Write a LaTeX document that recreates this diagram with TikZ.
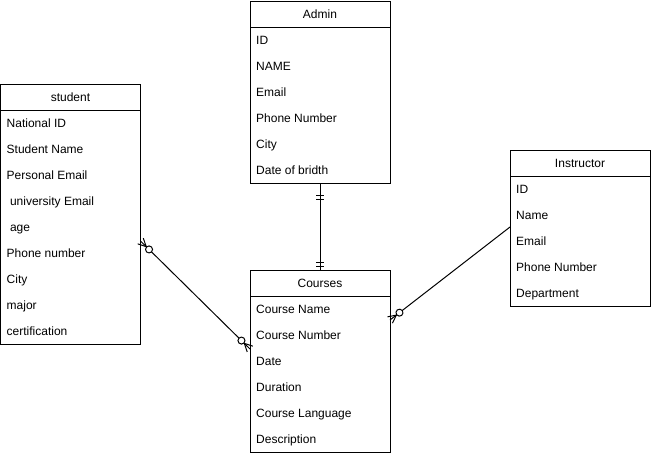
\documentclass[tikz,border=0pt]{standalone}
\usepackage{fontspec}
\setmainfont{Liberation Sans}
\usetikzlibrary{calc,decorations.markings}

\tikzset{
  box/.style={draw=black, line width=1pt, fill=white, minimum width=140pt,
    inner sep=0pt, outer sep=0pt, anchor=north west},
  etitle/.style={anchor=base, inner sep=0pt, font=\fontsize{12}{14}\selectfont},
  field/.style={anchor=base west, inner sep=0pt, font=\fontsize{12}{14}\selectfont},
  rel/.style={draw=black, line width=1pt},
  % zero-or-many (circle + crow's foot) at the start / end of a relation line
  zmstart/.style={postaction={decorate, decoration={markings,
    mark=at position 0 with {
      \draw[line width=1pt] (8pt,0) -- (0,4pt) (8pt,0) -- (0,-4pt);
      \draw[line width=1pt, fill=white] (12pt,0) circle (3.5pt);}}}},
  zmend/.style={postaction={decorate, decoration={markings,
    mark=at position 1 with {
      \draw[line width=1pt] (-8pt,0) -- (0,4pt) (-8pt,0) -- (0,-4pt);
      \draw[line width=1pt, fill=white] (-12pt,0) circle (3.5pt);}}}},
  % mandatory-one (double bar)
  mostart/.style={postaction={decorate, decoration={markings,
    mark=at position 12pt with {\draw[line width=1pt] (0,-4pt) -- (0,4pt);},
    mark=at position 16pt with {\draw[line width=1pt] (0,-4pt) -- (0,4pt);}}}},
  moend/.style={postaction={decorate, decoration={markings,
    mark=at position -8pt with {\draw[line width=1pt] (0,-4pt) -- (0,4pt);},
    mark=at position -4pt with {\draw[line width=1pt] (0,-4pt) -- (0,4pt);}}}},
}

% entity: name, x, y, title, number of fields, fields
\newcommand{\erentity}[6]{%
  \node[box, minimum height=26pt] (#1) at (#2,#3) {};
  \node[etitle] (#1-title) at ($(#1.center)+(0,4.5)$) {#4};
  \node[box, minimum height=#5*26pt] (#1-body) at (#1.south west) {};
  \foreach \f [count=\i] in {#6} {%
    \node[field] (#1-f\i) at ($(#1-body.north west)+(6,{26*\i-13+4})$) {\f};}%
}

\begin{document}
\begin{tikzpicture}[x=1pt, y=-1pt]
  \fill[white] (0,0) rectangle (651,456);
  \useasboundingbox (0,0) rectangle (651,456);

  \erentity{adm}{250}{1}{Admin}{6}{ID, NAME, Email, Phone Number, City, Date of bridth}
  \erentity{stu}{0.5}{84}{student}{9}{National ID, Student Name, Personal Email,
    {\ university Email}, {\ age}, Phone number, City, major, certification}
  \erentity{ins}{510}{150}{Instructor}{5}{ID, Name, Email, Phone Number, Department}
  \erentity{crs}{250}{270}{Courses}{6}{Course Name, Course Number, Date, Duration,
    Course Language, Description}

  \coordinate (stuR) at ($(stu-body.north east)+(0,131)$);
  \coordinate (crsL) at ($(crs-body.north west)+(0,53)$);
  \coordinate (crsR) at ($(crs-body.north east)+(0,24)$);
  \coordinate (insL) at ($(ins-body.north west)+(0,51)$);

  \draw[rel, mostart, moend] (adm-body.south) -- (crs.north);
  \draw[rel, zmstart, zmend] (stuR) -- (crsL);
  \draw[rel, zmstart] (crsR) -- (insL);
\end{tikzpicture}
\end{document}
